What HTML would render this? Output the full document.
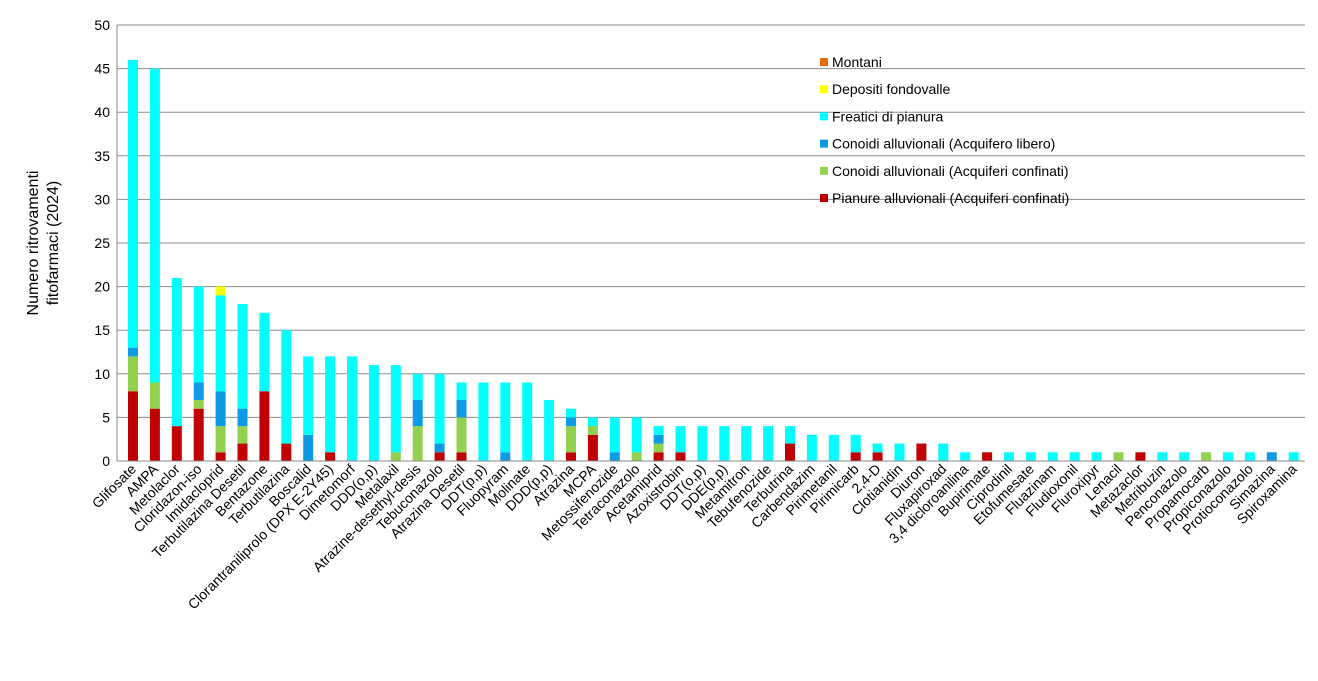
<!DOCTYPE html>
<html><head><meta charset="utf-8"><style>
html,body{margin:0;padding:0;background:#fff;}
svg text{font-family:"Liberation Sans",Arial,sans-serif;}
</style></head><body>
<svg id="c" width="1318" height="676" xmlns="http://www.w3.org/2000/svg"></svg>
<script>
const svg=document.getElementById('c');
const NS='http://www.w3.org/2000/svg';
function el(t,a,txt){const e=document.createElementNS(NS,t);for(const k in a)e.setAttribute(k,a[k]);if(txt!==undefined)e.textContent=txt;svg.appendChild(e);return e;}
const y0=461, ppu=8.72, L=117, R=1305;
for(let v=0;v<=50;v+=5){const y=y0-v*ppu;
 el('line',{x1:L,x2:R,y1:y,y2:y,stroke:v==0?'#888':'#8c8c8c','stroke-width':1});
 el('text',{x:110,y:y+5,'text-anchor':'end','font-size':14,fill:'#000'},v);}
el('line',{x1:L,x2:L,y1:25,y2:y0,stroke:'#888'});
const C={r:'#c00000',g:'#92d050',b:'#0e9be3',c:'#00ffff',y:'#ffff00'};
const D=[
['Glifosate',8,4,1,33],['AMPA',6,3,0,36],['Metolaclor',4,0,0,17],['Cloridazon-iso',6,1,2,11],
['Imidacloprid',1,3,4,11,1],['Terbutilazina Desetil',2,2,2,12],['Bentazone',8,0,0,9],['Terbutilazina',2,0,0,13],
['Boscalid',0,0,3,9],['Clorantraniliprolo (DPX E-2Y45)',1,0,0,11],['Dimetomorf',0,0,0,12],['DDD(o,p)',0,0,0,11],
['Metalaxil',0,1,0,10],['Atrazine-desethyl-desis',0,4,3,3],['Tebuconazolo',1,0,1,8],['Atrazina Desetil',1,4,2,2],
['DDT(p,p)',0,0,0,9],['Fluopyram',0,0,1,8],['Molinate',0,0,0,9],['DDD(p,p)',0,0,0,7],['Atrazina',1,3,1,1],
['MCPA',3,1,0,1],['Metossifenozide',0,0,1,4],['Tetraconazolo',0,1,0,4],['Acetamiprid',1,1,1,1],['Azoxistrobin',1,0,0,3],
['DDT(o,p)',0,0,0,4],['DDE(p,p)',0,0,0,4],['Metamitron',0,0,0,4],['Tebufenozide',0,0,0,4],['Terbutrina',2,0,0,2],
['Carbendazim',0,0,0,3],['Pirimetanil',0,0,0,3],['Pirimicarb',1,0,0,2],['2,4-D',1,0,0,1],['Clotianidin',0,0,0,2],
['Diuron',2,0,0,0],['Fluxapiroxad',0,0,0,2],['3,4 dicloroanilina',0,0,0,1],['Bupirimate',1,0,0,0],['Ciprodinil',0,0,0,1],
['Etofumesate',0,0,0,1],['Fluazinam',0,0,0,1],['Fludioxonil',0,0,0,1],['Fluroxipyr',0,0,0,1],['Lenacil',0,1,0,0],
['Metazaclor',1,0,0,0],['Metribuzin',0,0,0,1],['Penconazolo',0,0,0,1],['Propamocarb',0,1,0,0],['Propiconazolo',0,0,0,1],
['Protioconazolo',0,0,0,1],['Simazina',0,0,1,0],['Spiroxamina',0,0,0,1]];
const keys=['r','g','b','c','y'];
D.forEach((d,i)=>{const cx=133+i*21.9;let acc=0;
 for(let k=0;k<5;k++){const v=d[k+1]||0;if(!v)continue;
  el('rect',{x:cx-5,y:y0-(acc+v)*ppu,width:10,height:v*ppu,fill:C[keys[k]]});acc+=v;}
 const tx=cx+4,ty=470;
 el('text',{x:tx,y:ty,'text-anchor':'end','font-size':14,transform:`rotate(-45 ${tx} ${ty})`},d[0]);
});
el('line',{x1:L,x2:R,y1:y0,y2:y0,stroke:'#888'});
const leg=[['#e46c0a','Montani'],['#ffff00','Depositi fondovalle'],['#00ffff','Freatici di pianura'],['#0e9be3','Conoidi alluvionali (Acquifero libero)'],['#92d050','Conoidi alluvionali (Acquiferi confinati)'],['#c00000','Pianure alluvionali (Acquiferi confinati)']];
leg.forEach((l,i)=>{const y=62+i*27.2;
 el('rect',{x:820,y:y-4,width:8,height:8,fill:l[0]});
 el('text',{x:832,y:y+5,'font-size':14},l[1]);});
el('text',{x:38,y:243,'text-anchor':'middle','font-size':16,transform:'rotate(-90 38 243)'},'Numero ritrovamenti');
el('text',{x:58,y:243,'text-anchor':'middle','font-size':16,transform:'rotate(-90 58 243)'},'fitofarmaci (2024)');
</script>
</body></html>
